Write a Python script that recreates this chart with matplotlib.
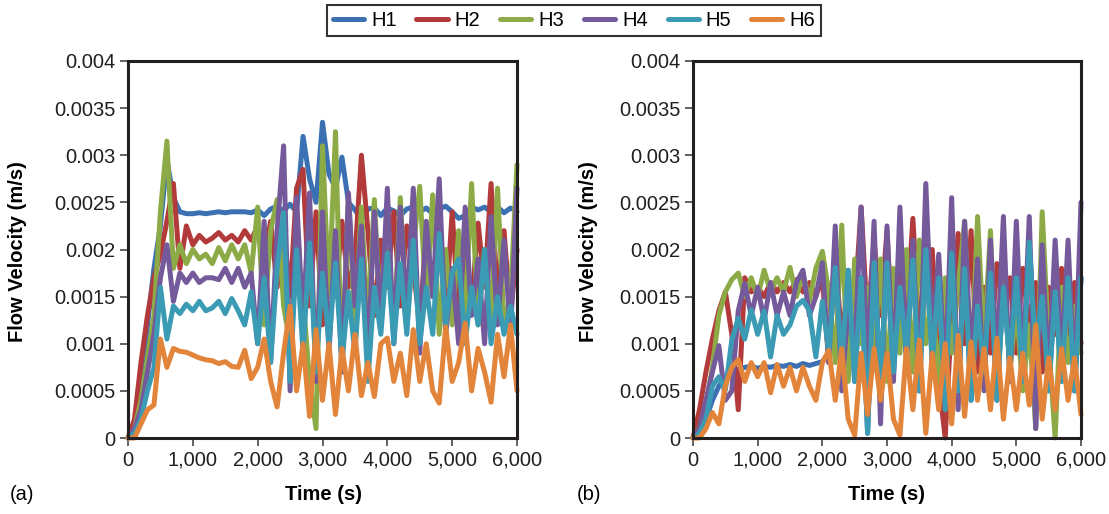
import matplotlib.pyplot as plt
import numpy as np

plt.rcParams['font.family'] = ['Liberation Sans', 'DejaVu Sans']

# flow velocity in units of 1e-4 m/s, sampled every 100 s from 0 to 6000 s
SCALE = 1e-4
t = np.arange(0, 6001, 100)

names = ['H1', 'H2', 'H3', 'H4', 'H5', 'H6']
colors = ['#3b71b3', '#b33a3a', '#8cab47', '#745a9b', '#3b9bb4', '#e2843a']

# (a)
a_h1 = [0, 0.5, 5, 12, 18, 22.5, 29.5, 25.5, 24, 23.8,
        23.8, 23.9, 23.8, 23.9, 24, 23.9, 24, 24, 24, 23.9,
        24.2, 23.6, 24.3, 24.6, 24.1, 24.8, 24, 32, 27.5, 25,
        33.5, 28, 26.5, 29.8, 25, 24.2, 23.2, 24.3, 24.4, 23.6,
        24.4, 24.1, 23.6, 24.3, 24.5, 24, 24.4, 23.8, 24.3, 24.6,
        24, 23.3, 23.6, 24.5, 24.2, 24.5, 24, 24.5, 23.9, 24.4,
        24]
a_h2 = [0, 2, 8, 13, 17, 19.5, 23, 27, 18, 22.5,
        20.5, 21.5, 20.8, 21.2, 21.8, 21, 21.5, 20.8, 22, 21,
        22.5, 19, 23, 16, 22.5, 15, 26.5, 28.5, 14, 24,
        12, 20, 15, 23, 16, 19, 30, 22, 13, 21,
        16, 24, 14, 22.5, 18, 12, 22, 15, 21, 13,
        24, 13, 19.5, 14, 22.8, 16, 27, 15, 22, 13,
        20]
a_h3 = [0, 1, 4, 8.5, 13, 24, 31.5, 18, 20.5, 18.5,
        20, 19, 19.5, 18.5, 20.2, 18.8, 20.5, 19, 20.5, 17.5,
        24.5, 12, 22, 25.3, 14, 10, 20, 15, 6, 1,
        31, 15, 32.5, 7, 25.5, 12, 24.5, 12, 25.3, 12,
        20, 11, 25.5, 12, 20, 26.7, 14, 25.8, 11, 20,
        12, 22, 13, 27, 12, 20, 13, 26.5, 12, 15,
        29]
a_h4 = [0, 1, 3, 7, 11, 17, 20.5, 14.5, 17.5, 16.5,
        17.5, 16.5, 17, 17, 16.8, 18, 16.5, 18, 16, 17.5,
        10, 23, 8, 22, 31, 5, 25.5, 12, 26, 6,
        24, 9, 22, 7, 26, 14, 22.5, 8, 24, 12,
        26.5, 10, 24.5, 13, 26.5, 9, 23, 15, 27.5, 11,
        18, 10, 24.5, 13, 19, 10, 23.5, 12, 21, 11,
        26.5]
a_h5 = [0, 0.5, 2, 5, 7.5, 16, 10.5, 14, 13.2, 14.2,
        13.5, 14.5, 13.5, 13.8, 14.5, 13.2, 14.8, 13.5, 12, 15.5,
        10, 17, 8, 18, 23.9, 6, 20, 9, 20.7, 7,
        17.5, 10, 18.6, 8, 15.5, 9, 19, 6, 16, 11,
        19.6, 10, 18.5, 11, 21, 10, 16, 11, 21.7, 12,
        17.5, 19, 10, 16, 12, 20, 10, 15, 11, 14,
        11]
a_h6 = [0, 0, 1.5, 3, 3.5, 10.5, 7.5, 9.5, 9.2, 9.1,
        8.8, 8.5, 8.3, 8.2, 7.9, 8.1, 7.6, 7.5, 9.3, 6.3,
        7.5, 10.5, 6, 3.3, 9, 14, 5, 10, 2.3, 11.5,
        4, 10, 2.5, 9.5, 5, 11, 4.5, 8, 4.4, 10,
        10.6, 6, 9, 4.5, 11.5, 6, 10, 5, 3.7, 11.8,
        6, 8, 12.2, 5, 9.5, 7, 3.8, 11, 6.5, 12,
        5]

# (b)
b_h1 = [0, 0.5, 2, 4, 5.5, 6.5, 7, 7.3, 7.5, 7.6,
        7.4, 7.6, 7.5, 7.7, 7.6, 7.8, 7.6, 7.9, 7.7, 7.9,
        8.1, 9, 18.1, 8, 17.8, 6, 17, 0.5, 18.6, 6,
        18.6, 7, 16, 9, 18.9, 5, 20, 8, 17, 3,
        19.6, 5, 18, 4, 14, 7, 17.5, 4, 16, 8,
        17, 6, 20.8, 9, 15, 5, 15.5, 6, 17, 5,
        17]
b_h2 = [0, 3, 7, 10.5, 13.5, 15.5, 11, 3, 17, 15.5,
        16, 15, 16.5, 15.5, 16.5, 15.5, 16.8, 15.5, 16.5, 15,
        17, 8, 20, 10, 17, 14, 24.5, 12, 21, 13,
        22, 9, 20, 12, 23.3, 11, 18, 20, 6, 0,
        13, 21.7, 10, 22, 7, 16, 9, 18.5, 14, 17,
        9, 18, 12, 16.5, 7, 16, 11, 18, 9, 16.5,
        10]
b_h3 = [0, 1, 3.5, 7.5, 13, 15.5, 16.8, 17.5, 15, 17,
        15, 17.8, 15.5, 17, 15.5, 18.1, 15, 17.5, 14.5, 18,
        19.8, 15.5, 8, 22.6, 6, 19, 10, 16, 8, 19,
        6, 18, 9, 20, 7, 21, 10, 15, 6, 17,
        9, 16, 23, 6, 23.5, 10, 22, 5, 18, 7,
        14, 5, 12, 1, 24, 10, 0, 16, 8, 14,
        9]
b_h4 = [0, 1, 4, 7, 9.8, 4, 5, 13.5, 16.4, 13,
        16, 12.5, 16.5, 13, 15.5, 13, 16.5, 17.8, 13, 15,
        18.6, 8, 22.5, 5, 14, 9, 24.5, 7, 23, 1.5,
        22.5, 6, 24.5, 8, 21, 5, 27, 10, 19.5, 6,
        25.5, 3, 23, 8, 19, 5, 21, 8, 23.5, 6,
        23, 7, 23.5, 1, 20.5, 6, 21, 8, 21, 5,
        25]
b_h5 = [0, 0.5, 2, 5.5, 6.5, 5.1, 10.4, 12.7, 10.5, 13.6,
        11, 13.5, 8.6, 13, 11, 12, 14, 14.6, 13.5, 8.6,
        14.5, 9, 18.1, 8, 17.8, 6, 17, 0.5, 18.6, 6,
        18.6, 7, 16, 9, 18.9, 5, 20, 8, 17, 3,
        19.6, 5, 18, 4, 14, 7, 17.5, 4, 16, 8,
        17, 6, 20.8, 9, 15, 5, 15.5, 6, 17, 5,
        17]
b_h6 = [0, 0, 1, 2.7, 1.5, 5.5, 7.5, 8.3, 6, 8,
        6.5, 8, 4.8, 7.8, 5.5, 7.5, 5, 7.5, 5.5, 4,
        8, 9.3, 4, 9.5, 2, 0.3, 9, 2.5, 9.5, 4,
        9, 2, 0.3, 9.5, 3, 10.4, 0.5, 9, 3, 10,
        1.5, 10.9, 2.3, 10.2, 4, 9.5, 3, 10.6, 2, 8.5,
        3, 9, 3.5, 12, 2, 8.5, 3, 9.5, 4, 8.5,
        2.5]

panel_a = [a_h1, a_h2, a_h3, a_h4, a_h5, a_h6]
panel_b = [b_h1, b_h2, b_h3, b_h4, b_h5, b_h6]

xticks = [0, 1000, 2000, 3000, 4000, 5000, 6000]
xtick_labels = ['0', '1,000', '2,000', '3,000', '4,000', '5,000', '6,000']
yticks = [0, 0.0005, 0.001, 0.0015, 0.002, 0.0025, 0.003, 0.0035, 0.004]
ytick_labels = ['0', '0.0005', '0.001', '0.0015', '0.002', '0.0025', '0.003', '0.0035', '0.004']

W, H = 1109, 514
fig = plt.figure(figsize=(W / 100, H / 100), dpi=100)
ax_a = fig.add_axes([128 / W, 76 / H, 389 / W, 377 / H])
ax_b = fig.add_axes([693 / W, 76 / H, 388 / W, 377 / H])

bold = dict(fontweight='bold', fontsize=14.5)
plain = dict(fontsize=14.5)

for ax, data in [(ax_a, panel_a), (ax_b, panel_b)]:
    for name, vals, col in zip(names, data, colors):
        ax.plot(t, np.array(vals) * SCALE, color=col, lw=3.6, label=name,
                clip_on=False, solid_joinstyle='round', solid_capstyle='round')
    ax.set_xlim(0, 6000)
    ax.set_ylim(0, 0.004)
    ax.set_xticks(xticks)
    ax.set_xticklabels(xtick_labels)
    ax.set_yticks(yticks)
    ax.set_yticklabels(ytick_labels)
    ax.tick_params(direction='out', length=6, width=1.3, color='#555555',
                   labelsize=14.5, pad=3, labelcolor='#231f20')
    for sp in ax.spines.values():
        sp.set_linewidth(2.2)
        sp.set_color('#231f20')

# axis labels
fig.text(18 / W, 1 - 252 / H, 'Flow Velocity (m/s)', rotation=90, ha='center', va='center', **bold)
fig.text(588 / W, 1 - 252 / H, 'Flow Velocity (m/s)', rotation=90, ha='center', va='center', **bold)
fig.text(323 / W, 1 - 495 / H, 'Time (s)', ha='center', va='center', **bold)
fig.text(887 / W, 1 - 495 / H, 'Time (s)', ha='center', va='center', **bold)
fig.text(22 / W, 1 - 495 / H, '(a)', ha='center', va='center', **plain)
fig.text(589 / W, 1 - 495 / H, '(b)', ha='center', va='center', **plain)

handles, labels = ax_a.get_legend_handles_labels()
leg = fig.legend(handles, labels, loc='upper center', bbox_to_anchor=(574 / W, 1 - 5 / H),
                 ncol=6, fontsize=14.5, frameon=True, fancybox=False, edgecolor='black',
                 handlelength=1.55, handletextpad=0.35, columnspacing=0.98, borderpad=0.3,
                 borderaxespad=0)
leg.get_frame().set_linewidth(1.5)

fig.savefig('out.png', dpi=100)
